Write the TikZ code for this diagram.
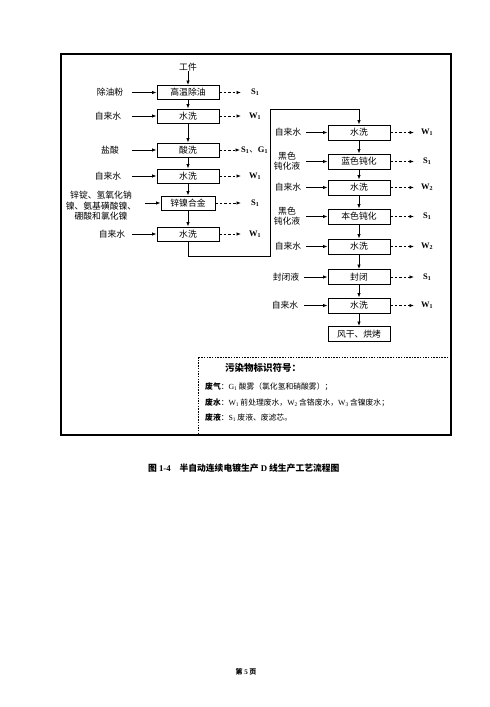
\documentclass[tikz,border=0pt]{standalone}
\usepackage{fontspec}
\setmainfont{Liberation Serif}
\newfontfamily\cjk{Noto Sans CJK SC}
\usetikzlibrary{arrows.meta}
\begin{document}
\begin{tikzpicture}[x=1pt,y=-1pt,
  proc/.style={draw, line width=0.9pt, minimum width=62pt, minimum height=14pt, inner sep=0pt, font=\cjk\fontsize{8.8}{9}\selectfont},
  lbl/.style={font=\cjk\fontsize{8.8}{10.5}\selectfont, inner sep=0pt, align=center},
  outl/.style={font=\fontsize{8.5}{9}\selectfont\bfseries, inner sep=0pt, anchor=west},
  arr/.style={-{Latex[length=4.5pt,width=3.5pt]}, line width=0.8pt},
  darr/.style={arr, dash pattern=on 2.5pt off 2pt},
  txt/.style={font=\cjk\fontsize{7.8}{9}\selectfont, inner sep=0pt, anchor=west}]
\fill[white] (0,0) rectangle (490,707);
\useasboundingbox (0,0) rectangle (490,707);

% outer frame
\draw[line width=1.2pt] (61,54) rectangle (451,435);
% legend box
\draw[line width=0.8pt, dash pattern=on 1.5pt off 1.2pt] (198,357) rectangle (450,434);

% left column
\node[lbl] (top) at (188,67) {工件};
\node[proc] (n1) at (188,92.5) {高温除油};
\node[proc] (n2) at (188,116) {水洗};
\node[proc] (n3) at (188,150) {酸洗};
\node[proc] (n4) at (188,176) {水洗};
\node[proc, minimum width=54pt] (n5) at (188,203) {锌镍合金};
\node[proc] (n6) at (188,234) {水洗};

\draw[arr] (top) -- (n1);
\draw[arr] (n1) -- (n2);
\draw[arr] (n2) -- (n3);
\draw[arr] (n3) -- (n4);
\draw[arr] (n4) -- (n5);
\draw[arr] (n5) -- (n6);

\node[lbl] (i1) at (110,92.5) {除油粉};
\node[lbl] (i2) at (108,116) {自来水};
\node[lbl] (i3) at (110,150) {盐酸};
\node[lbl] (i4) at (108,176) {自来水};
\node[lbl] (i5) at (101,206) {锌锭、氢氧化钠\\镍、氨基磺酸镍、\\硼酸和氯化镍};
\node[lbl] (i6) at (112,234) {自来水};
\coordinate (a1) at (132,92.5);
\coordinate (a2) at (132,116);
\coordinate (a3) at (132,150);
\coordinate (a4) at (132,176);
\coordinate (a5) at (145,203);
\coordinate (a6) at (132,234);
\draw[arr] (a1) -- (n1);
\draw[arr] (a2) -- (n2);
\draw[arr] (a3) -- (n3);
\draw[arr] (a4) -- (n4);
\draw[arr] (a5) -- (n5);
\draw[arr] (a6) -- (n6);

\coordinate (b1) at (241,92.5);
\coordinate (b2) at (241,116);
\coordinate (b3) at (240,150);
\coordinate (b4) at (241,176);
\coordinate (b5) at (241,203);
\coordinate (b6) at (241,234);
\draw[darr] (n1) -- (b1);
\draw[darr] (n2) -- (b2);
\draw[darr] (n3) -- (b3);
\draw[darr] (n4) -- (b4);
\draw[darr] (n5) -- (b5);
\draw[darr] (n6) -- (b6);
\node[outl] (o1) at (251,92.5) {S\textsubscript{1}};
\node[outl] (o2) at (249,116) {W\textsubscript{1}};
\node[outl] (o3) at (241,150) {S\textsubscript{1}{\cjk\mdseries 、}G\textsubscript{1}};
\node[outl] (o4) at (249,176) {W\textsubscript{1}};
\node[outl] (o5) at (251,203) {S\textsubscript{1}};
\node[outl] (o6) at (249,234) {W\textsubscript{1}};

% right column
\node[proc, minimum height=15pt] (r1) at (359,132.5) {水洗};
\node[proc, minimum height=15pt] (r2) at (359,161.5) {蓝色钝化};
\node[proc, minimum height=15pt] (r3) at (359,187.5) {水洗};
\node[proc, minimum height=15pt] (r4) at (359,216.5) {本色钝化};
\node[proc, minimum height=15pt] (r5) at (359,246.5) {水洗};
\node[proc, minimum height=15pt] (r6) at (359,277) {封闭};
\node[proc, minimum height=15pt] (r7) at (359,305.5) {水洗};
\node[proc, minimum height=15pt] (r8) at (359,334) {风干、烘烤};

\coordinate (c1) at (188,256);
\coordinate (c2) at (270,256);
\coordinate (c3) at (270,109);
\coordinate (c4) at (359,109);
\draw[arr] (n6) -- (c1) -- (c2) -- (c3) -- (c4) -- (r1);
\draw[arr] (r1) -- (r2);
\draw[arr] (r2) -- (r3);
\draw[arr] (r3) -- (r4);
\draw[arr] (r4) -- (r5);
\draw[arr] (r5) -- (r6);
\draw[arr] (r6) -- (r7);
\draw[arr] (r7) -- (r8);

\node[lbl] (j1) at (288,132.5) {自来水};
\node[lbl] (j2) at (287,161) {黑色\\钝化液};
\node[lbl] (j3) at (288,187.5) {自来水};
\node[lbl] (j4) at (287,216) {黑色\\钝化液};
\node[lbl] (j5) at (288,246.5) {自来水};
\node[lbl] (j6) at (286,277) {封闭液};
\node[lbl] (j7) at (285,305.5) {自来水};
\coordinate (d1) at (306,132.5);
\coordinate (d2) at (306,161.5);
\coordinate (d3) at (306,187.5);
\coordinate (d4) at (306,216.5);
\coordinate (d5) at (306,246.5);
\coordinate (d6) at (304,277);
\coordinate (d7) at (304,305.5);
\draw[arr] (d1) -- (r1);
\draw[arr] (d2) -- (r2);
\draw[arr] (d3) -- (r3);
\draw[arr] (d4) -- (r4);
\draw[arr] (d5) -- (r5);
\draw[arr] (d6) -- (r6);
\draw[arr] (d7) -- (r7);

\coordinate (e1) at (414,132.5);
\coordinate (e2) at (414,161.5);
\coordinate (e3) at (414,187.5);
\coordinate (e4) at (414,216.5);
\coordinate (e5) at (414,246.5);
\coordinate (e6) at (414,277);
\coordinate (e7) at (414,305.5);
\draw[darr] (r1) -- (e1);
\draw[darr] (r2) -- (e2);
\draw[darr] (r3) -- (e3);
\draw[darr] (r4) -- (e4);
\draw[darr] (r5) -- (e5);
\draw[darr] (r6) -- (e6);
\draw[darr] (r7) -- (e7);
\node[outl] (p1) at (421,132.5) {W\textsubscript{1}};
\node[outl] (p2) at (423,161.5) {S\textsubscript{1}};
\node[outl] (p3) at (421,187.5) {W\textsubscript{2}};
\node[outl] (p4) at (423,216.5) {S\textsubscript{1}};
\node[outl] (p5) at (421,246.5) {W\textsubscript{2}};
\node[outl] (p6) at (423,277) {S\textsubscript{1}};
\node[outl] (p7) at (421,305.5) {W\textsubscript{1}};

% legend
\node[txt, font=\cjk\fontsize{9.5}{10}\selectfont\bfseries] (lg) at (225,368) {污染物标识符号：};
\node[txt] (l1) at (205,387) {\textbf{废气}：{\rmfamily G\textsubscript{1}}\,酸雾（氯化氢和硝酸雾）；};
\node[txt] (l2) at (205,403) {\textbf{废水}：{\rmfamily W\textsubscript{1}}\,前处理废水，{\rmfamily W\textsubscript{2}}\,含铬废水，{\rmfamily W\textsubscript{3}}\,含镍废水；};
\node[txt] (l3) at (205,418) {\textbf{废液}：{\rmfamily S\textsubscript{1}}\,废液、废滤芯。};

% caption and page
\node[txt, font=\cjk\fontsize{8.8}{9}\selectfont\bfseries] (cap) at (148,468) {图 {\rmfamily 1-4}\quad 半自动连续电镀生产 {\rmfamily D} 线生产工艺流程图};
\node[lbl, font=\cjk\fontsize{7}{8}\selectfont\bfseries] (pg) at (246,672) {第 {\rmfamily 5} 页};
\end{tikzpicture}
\end{document}
